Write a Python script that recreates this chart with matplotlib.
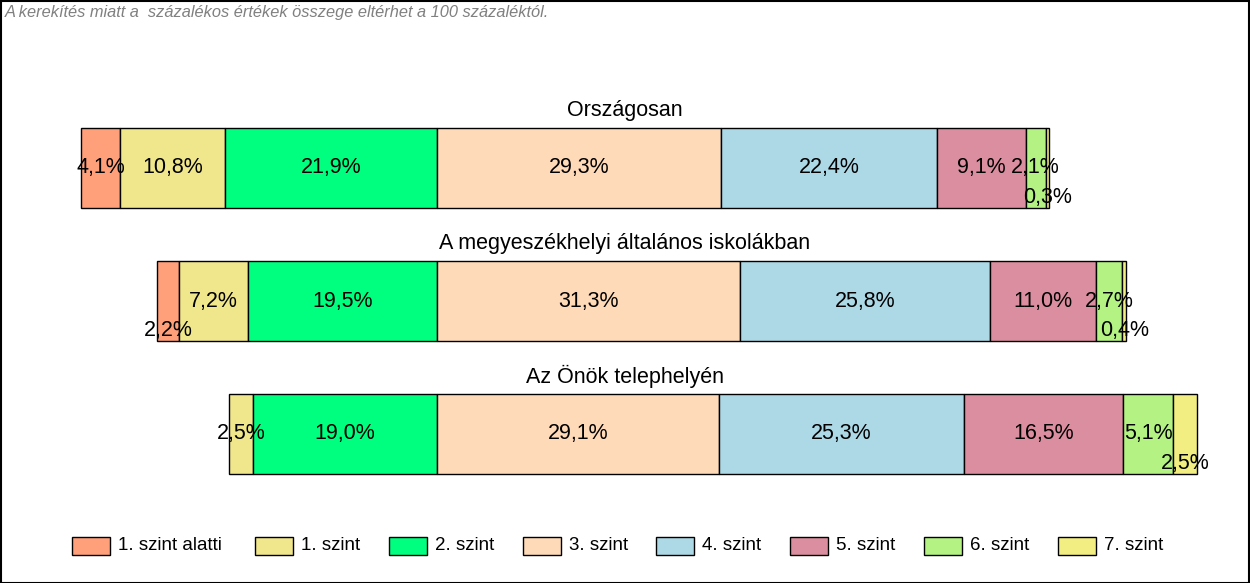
"""Képességszintek megoszlása - vízszintes halmozott sávok"""

import matplotlib.pyplot as plt
from matplotlib.patches import Rectangle

levels = ['1. szint alatti', '1. szint', '2. szint', '3. szint',
          '4. szint', '5. szint', '6. szint', '7. szint']
groups = ['Országosan', 'A megyeszékhelyi általános iskolákban', 'Az Önök telephelyén']
orszagos = [4.1, 10.8, 21.9, 29.3, 22.4, 9.1, 2.1, 0.3]
megyeszekhely = [2.2, 7.2, 19.5, 31.3, 25.8, 11.0, 2.7, 0.4]
telephely = [0.0, 2.5, 19.0, 29.1, 25.3, 16.5, 5.1, 2.5]
note = 'A kerekítés miatt a  százalékos értékek összege eltérhet a 100 százaléktól.'

colors = ['#FFA07A', '#F0E68C', '#00FF7F', '#FFDAB9',
          '#ADD8E6', '#DB8E9F', '#B3F283', '#F2EE82']
# labels pushed down to avoid overlap (row, level)
dropped = {(0, 7), (1, 0), (1, 7), (2, 7)}
legend_x = [72, 255, 389, 523, 656, 790, 924, 1058]

W, H = 1250, 583
PX = 9.68          # pixel per percent
X0 = 437           # pixel where level 3 starts
ROW0, ROWSTEP = 168, 133


def main():
    plt.rcParams['font.family'] = ['Liberation Sans', 'DejaVu Sans']
    fig = plt.figure(figsize=(W / 100, H / 100), dpi=100)
    ax = fig.add_axes([0, 0, 1, 1])
    ax.set_xlim(-X0 / PX, (W - X0) / PX)
    ax.set_ylim((H - ROW0) / ROWSTEP, -ROW0 / ROWSTEP)
    ax.axis('off')

    data = [orszagos, megyeszekhely, telephely]
    for r, vals in enumerate(data):
        start = -sum(vals[:3])
        left = start
        for i, v in enumerate(vals):
            if v > 0:
                ax.barh(r, v, left=left, height=80 / ROWSTEP, color=colors[i],
                        edgecolor='black', linewidth=1.0)
                label = f'{v:.1f}%'.replace('.', ',')
                dy = 0.225 if (r, i) in dropped else 0
                ax.text(left + v / 2, r + dy, label, ha='center', va='center',
                        fontsize=15.5, color='black')
            left += v
        ax.text(0.5, r - 0.435, groups[r], transform=ax.get_yaxis_transform(),
                ha='center', va='center', fontsize=15.5)

    fig.text(5 / W, 1 - 13 / H, note, ha='left', va='center', fontsize=11.8,
             style='italic', color='#808080')

    # legend
    ly = 1 - 546 / H
    for i, name in enumerate(levels):
        fig.patches.append(Rectangle((legend_x[i] / W, ly - 9 / H), 38 / W, 18 / H,
                                     transform=fig.transFigure, facecolor=colors[i],
                                     edgecolor='black', linewidth=1.0))
        fig.text((legend_x[i] + 46) / W, ly, name, ha='left', va='center', fontsize=13.5)

    fig.patches.append(Rectangle((0.5 / W, 0.5 / H), 1 - 1.5 / W, 1 - 1.5 / H,
                                 transform=fig.transFigure, fill=False,
                                 edgecolor='black', linewidth=1.5))

    fig.savefig('out.png', dpi=100)


if __name__ == "__main__":
    main()
